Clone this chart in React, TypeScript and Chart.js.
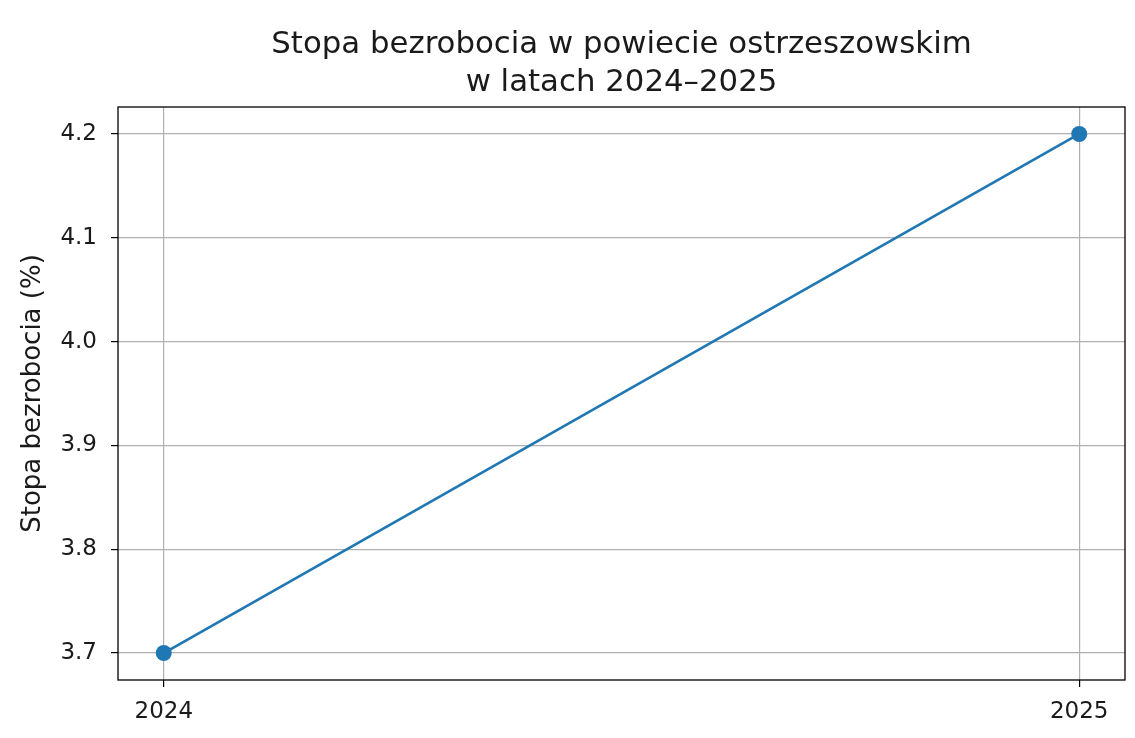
import React, { useEffect, useRef } from "react";
import { Chart, registerables } from "chart.js";

Chart.register(...registerables);

const titleLines = ["Stopa bezrobocia w powiecie ostrzeszowskim", "w latach 2024–2025"];
const yAxisLabel = "Stopa bezrobocia (%)";
const years = [2024, 2025];
const rates = [3.7, 4.2];
const yTicks = [3.7, 3.8, 3.9, 4.0, 4.1, 4.2];
const xTicks = [2024, 2025];

const FONT = "'DejaVu Sans', sans-serif";

const textPlugin = {
  id: "textPlugin",
  beforeDraw(chart: any) {
    const ctx = chart.ctx;
    ctx.save();
    ctx.fillStyle = "#ffffff";
    ctx.fillRect(0, 0, chart.width, chart.height);
    ctx.restore();
  },
  afterDraw(chart: any) {
    const ctx = chart.ctx;
    const a = chart.chartArea;
    ctx.save();
    // frame
    ctx.strokeStyle = "#000000";
    ctx.lineWidth = 1.3;
    ctx.strokeRect(a.left, a.top, a.right - a.left, a.bottom - a.top);
    // title
    ctx.fillStyle = "#1a1a1a";
    ctx.font = `30.8px ${FONT}`;
    ctx.textAlign = "center";
    ctx.textBaseline = "middle";
    const cx = (a.left + a.right) / 2;
    ctx.fillText(titleLines[0], cx, 45);
    ctx.fillText(titleLines[1], cx, 83);
    // y label
    ctx.font = `26px ${FONT}`;
    ctx.translate(33, (a.top + a.bottom) / 2);
    ctx.rotate(-Math.PI / 2);
    ctx.fillText(yAxisLabel, 0, 0);
    ctx.restore();
  },
};

export default function App() {
  const ref = useRef<HTMLCanvasElement | null>(null);
  useEffect(() => {
    document.body.style.margin = "0";
    const chart = new Chart(ref.current as HTMLCanvasElement, {
      type: "line",
      data: {
        datasets: [
          {
            data: years.map((y, i) => ({ x: y, y: rates[i] })),
            borderColor: "#1f77b4",
            backgroundColor: "#1f77b4",
            borderWidth: 2.6,
            pointRadius: 8,
            pointHoverRadius: 8,
            pointBorderWidth: 0,
            tension: 0,
            clip: false as any,
          },
        ],
      },
      options: {
        responsive: false,
        animation: false,
        layout: { padding: { top: 107, right: 10, bottom: 0, left: 0 } },
        plugins: { legend: { display: false }, title: { display: false }, tooltip: { enabled: false } },
        scales: {
          x: {
            type: "linear",
            min: 2023.95,
            max: 2025.05,
            afterBuildTicks: (s: any) => {
              s.ticks = xTicks.map((v) => ({ value: v }));
            },
            afterFit: (s: any) => {
              s.height = 58;
            },
            ticks: {
              callback: (v: any) => String(v),
              color: "#1a1a1a",
              font: { family: FONT, size: 23 },
              padding: 11,
              maxRotation: 0,
            },
            grid: { color: "#b0b0b0", lineWidth: 1.2, tickColor: "#000000", tickLength: 7, drawTicks: true },
            border: { display: false },
          },
          y: {
            type: "linear",
            min: 3.674,
            max: 4.226,
            afterBuildTicks: (s: any) => {
              s.ticks = yTicks.map((v) => ({ value: v }));
            },
            afterFit: (s: any) => {
              s.width = 118;
            },
            ticks: {
              callback: (v: any) => Number(v).toFixed(1),
              color: "#1a1a1a",
              font: { family: FONT, size: 23 },
              padding: 14,
            },
            grid: { color: "#b0b0b0", lineWidth: 1.2, tickColor: "#000000", tickLength: 7, drawTicks: true },
            border: { display: false },
          },
        },
      },
      plugins: [textPlugin],
    } as any);
    return () => chart.destroy();
  }, []);
  return (
    <div style={{ position: "fixed", left: 0, top: 0, width: 1135, height: 738, background: "#fff" }}>
      <canvas ref={ref} width={1135} height={738} style={{ width: 1135, height: 738, display: "block" }} />
    </div>
  );
}
